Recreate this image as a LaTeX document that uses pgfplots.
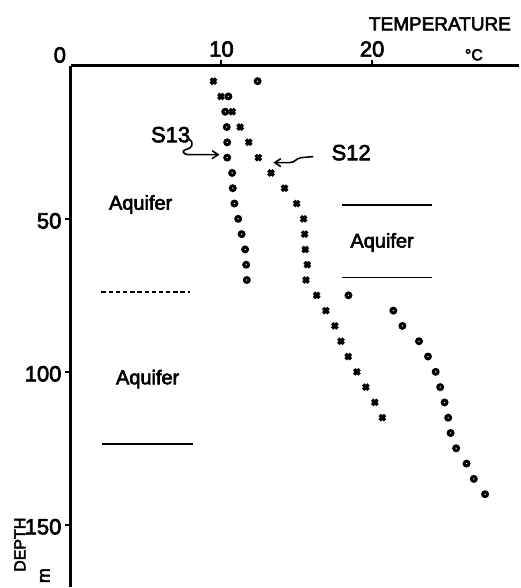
\documentclass[border=0pt]{standalone}
\usepackage{pgfplots}
\pgfplotsset{compat=1.18}
\usepackage{fontspec}
\setmainfont{Liberation Sans}[FakeBold=3]
\usetikzlibrary{arrows.meta}

% temperature profiles: depth (m) against temperature (degC)
\pgfplotstableread{
depth temp
5   9.47
10  9.97
15  10.71
20  11.24
25  11.81
30  12.45
35  13.29
40  14.19
45  14.99
50  15.45
55  15.52
60  15.56
65  15.70
70  15.61
75  16.32
80  16.93
85  17.53
90  17.93
95  18.41
100 18.99
105 19.58
110 20.18
115 20.68
}\sTwelve

\pgfplotstableread{
depth temp
5   12.40
10  10.46
15  10.25
20  10.35
25  10.38
30  10.38
35  10.71
40  10.75
45  10.86
50  11.11
55  11.34
60  11.57
65  11.64
70  11.68
}\sThirteen

\pgfplotstableread{
depth temp
75  18.43
80  21.41
85  22.01
90  23.11
95  23.71
100 24.22
105 24.52
110 24.81
115 25.05
120 25.21
125 25.58
130 26.27
135 26.75
140 27.50
}\sDeep

\begin{document}
\begin{tikzpicture}
% page frame, in units of half a point, origin at the top left
\begin{scope}[x=0.5pt,y=-0.5pt,shift={(-35.5pt,294pt)}]
  \useasboundingbox (0,0) rectangle (520,588);
\end{scope}
\begin{axis}[
  at={(0,0)}, anchor=south west,
  scale only axis, width=224.5pt, height=261pt,
  xmin=0, xmax=29.735, ymin=0, ymax=170.2,
  y dir=reverse,
  axis x line=top, axis y line=left,
  axis line style={-, line width=1.4pt},
  xtick={10,20}, ytick={50,100,150},
  extra x ticks={0},
  extra x tick style={major tick length=0pt, xticklabel style={xshift=-5.5pt}},
  tick align=outside, major tick length=3pt,
  tick style={line width=1pt, black},
  tick label style={font=\fontsize{11}{11}\selectfont},
  xticklabel style={yshift=-2pt},
  yticklabel style={xshift=1.8pt, yshift=-1pt},
  /pgf/number format/assume math mode=true,
  clip=false,
]
  \addplot[only marks, mark=x, mark size=1.9pt, mark options={line width=1.7pt}]
    table[x=temp, y=depth] {\sTwelve};
  \addplot[only marks, mark=o, mark size=1.2pt, mark options={line width=1.5pt}]
    table[x=temp, y=depth] {\sThirteen};
  \addplot[only marks, mark=o, mark size=1.2pt, mark options={line width=1.5pt}]
    table[x=temp, y=depth] {\sDeep};
  % aquifer boundaries
  \addplot[no marks, line width=0.9pt, dash pattern=on 2.2pt off 1.4pt] coordinates {(2.03,73.9) (7.88,73.9)};
  \addplot[no marks, line width=0.9pt] coordinates {(2.10,123.6) (8.10,123.6)};
  \addplot[no marks, line width=0.9pt] coordinates {(18.0,45.6) (24.0,45.6)};
  \addplot[no marks, line width=0.9pt] coordinates {(18.0,69.2) (24.0,69.2)};
\end{axis}
\begin{scope}[x=0.5pt,y=-0.5pt,shift={(-35.5pt,294pt)}]
  \node[font=\fontsize{9.5}{9.5}\selectfont] at (441,24) {TEMPERATURE};
  \node[font=\fontsize{8}{8}\selectfont] at (475,55) {°C};
  \node[font=\fontsize{10}{10}\selectfont] at (141,205) {Aquifer};
  \node[font=\fontsize{10}{10}\selectfont] at (148,380) {Aquifer};
  \node[font=\fontsize{10}{10}\selectfont] at (383,243) {Aquifer};
  \node[font=\fontsize{11}{11}\selectfont] at (171,135) {S13};
  \node[font=\fontsize{11}{11}\selectfont] at (352,153) {S12};
  \node[font=\fontsize{8}{8}\selectfont, rotate=90, inner sep=0pt] at (20,546) {DEPTH};
  \node[font=\fontsize{9}{9}\selectfont, rotate=90, inner sep=0pt] at (45,577) {m};
  % pointers to the two profiles
  \draw[line width=0.8pt, -{Straight Barb[length=3pt,width=4pt]}]
    (189,139) .. controls (196,144) and (192,149) .. (186,150)
    .. controls (182,151) and (183,155) .. (190,155) -- (220,155);
  \draw[line width=0.8pt, -{Straight Barb[length=3pt,width=4pt]}]
    (314,157) -- (302,158) .. controls (296,159) and (296,163) .. (290,163) -- (274,163);
\end{scope}
\end{tikzpicture}
\end{document}
